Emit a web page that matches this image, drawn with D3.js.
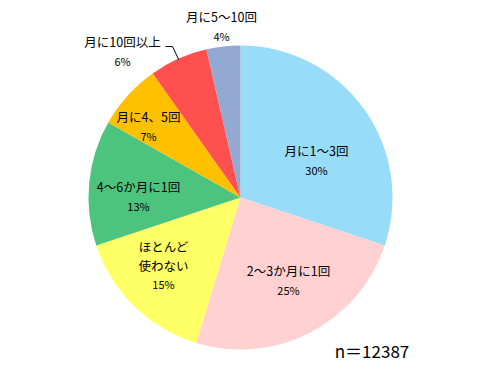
<!DOCTYPE html>
<html>
<head>
<meta charset="utf-8">
<script src="https://cdn.jsdelivr.net/npm/d3@7"></script>
<style>
  body { margin: 0; background: #fff; }
  text { font-family: "Noto Sans CJK JP", sans-serif; fill: #000; }
</style>
</head>
<body>
<div id="chart"></div>
<script>
// slices, clockwise from 12 o'clock
var categories = ["月に1〜3回", "2〜3か月に1回", "ほとんど\n使わない", "4〜6か月に1回", "月に4、5回", "月に10回以上", "月に5〜10回"];
var shares = [30.1, 24.6, 15.2, 13.3, 7.0, 6.2, 3.6];
var percentLabels = ["30%", "25%", "15%", "13%", "7%", "6%", "4%"];
var colors = ["#97dcf8", "#ffd1d1", "#ffff66", "#4dc47e", "#ffc000", "#ff5050", "#94a9d1"];

// label block centres, offset from pie centre (px)
var labelOffsets = [[76, -36], [48, 84], [-77, 69], [-102, 0], [-92, -70], [-118, -145], [-19, -170]];

var width = 482, height = 383;
var cx = 240.5, cy = 197.5, radius = 152;

var svg = d3.select("#chart").append("svg")
  .attr("width", width)
  .attr("height", height);

var pie = d3.pie().sort(null).value(function (d) { return d; });
var arc = d3.arc().innerRadius(0).outerRadius(radius);
var arcs = pie(shares);

var g = svg.append("g").attr("transform", "translate(" + cx + "," + cy + ")");

g.selectAll("path.slice")
  .data(arcs)
  .enter().append("path")
  .attr("class", "slice")
  .attr("d", arc)
  .attr("fill", function (d, i) { return colors[i]; });

// leader line for 月に10回以上
var edge = d3.arc().innerRadius(radius - 1).outerRadius(radius - 1).centroid(arcs[5]);
g.append("polyline")
  .attr("points", [[-75, -151], [-68, -151], edge].map(function (p) { return p.join(","); }).join(" "))
  .attr("fill", "none")
  .attr("stroke", "#000")
  .attr("stroke-width", 1);

var labels = g.selectAll("g.label")
  .data(arcs)
  .enter().append("g")
  .attr("class", "label")
  .attr("transform", function (d, i) { return "translate(" + labelOffsets[i][0] + "," + labelOffsets[i][1] + ")"; });

labels.each(function (d, i) {
  var lines = categories[i].split("\n").concat([percentLabels[i]]);
  var lh = 19;
  var top = -(lines.length - 1) * lh / 2;
  var sel = d3.select(this);
  lines.forEach(function (t, k) {
    sel.append("text")
      .attr("x", 0)
      .attr("y", top + k * lh)
      .attr("dy", "0.35em")
      .attr("text-anchor", "middle")
      .style("font-size", k === lines.length - 1 ? "11px" : "12.5px")
      .text(t);
  });
});

svg.append("text")
  .attr("x", 372)
  .attr("y", 352)
  .attr("dy", "0.35em")
  .attr("text-anchor", "middle")
  .style("font-size", "17px")
  .text("n＝12387");
</script>
</body>
</html>
